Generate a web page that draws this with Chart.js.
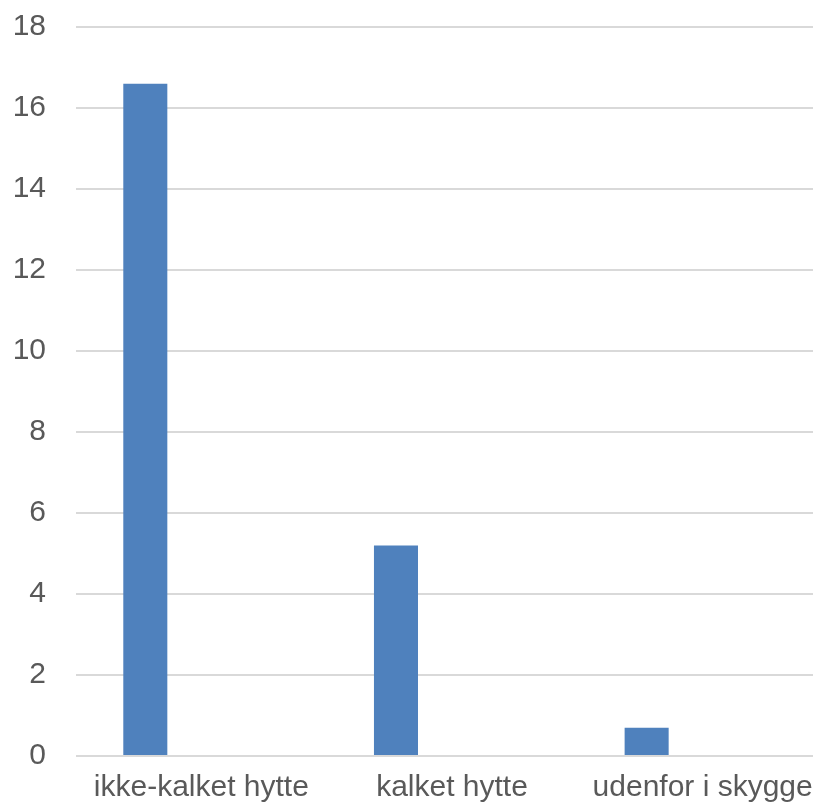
<!DOCTYPE html>
<html>
<head>
<meta charset="utf-8">
<script src="https://cdn.jsdelivr.net/npm/chart.js@4.4.1/dist/chart.umd.min.js"></script>
<style>
  html, body { margin: 0; padding: 0; background: #ffffff; overflow: hidden; }
  #wrap { position: relative; width: 828px; height: 833px; margin-top: -21px; }
</style>
</head>
<body>
<div id="wrap"><canvas id="chart"></canvas></div>
<script>
// Categories and measured values
const categories = ['ikke-kalket hytte', 'kalket hytte', 'udenfor i skygge'];
const values = [16.6, 5.2, 0.7];
// Second, empty series in each group (no data recorded)
const emptySeries = [null, null, null];

const yMin = 0;
const yMax = 18;
const yStep = 2;

const textColor = '#595959';
const gridColor = '#d9d9d9';
const barColor = '#4f81bd';
const fontFamily = "'Liberation Sans', Arial, sans-serif";

new Chart(document.getElementById('chart'), {
  type: 'bar',
  data: {
    labels: categories,
    datasets: [
      { data: values, backgroundColor: barColor, borderWidth: 0 },
      { data: emptySeries, backgroundColor: barColor, borderWidth: 0 }
    ]
  },
  options: {
    responsive: true,
    maintainAspectRatio: false,
    animation: false,
    categoryPercentage: 0.894,
    barPercentage: 0.393,
    layout: { padding: { top: 4, right: 0, bottom: 0, left: 0 } },
    plugins: { legend: { display: false }, tooltip: { enabled: false } },
    scales: {
      x: {
        grid: { display: false, drawTicks: false },
        border: { display: false },
        ticks: {
          color: textColor,
          font: { family: fontFamily, size: 30 },
          padding: 14,
          maxRotation: 0,
          autoSkip: false
        },
        afterFit: (scale) => { scale.height = 56; }
      },
      y: {
        min: yMin,
        max: yMax,
        grid: { color: gridColor, lineWidth: 2, drawTicks: false },
        border: { display: false },
        ticks: {
          stepSize: yStep,
          color: textColor,
          font: { family: fontFamily, size: 30 },
          padding: 30
        },
        afterFit: (scale) => { scale.width = 76; }
      }
    }
  }
});
</script>
</body>
</html>
